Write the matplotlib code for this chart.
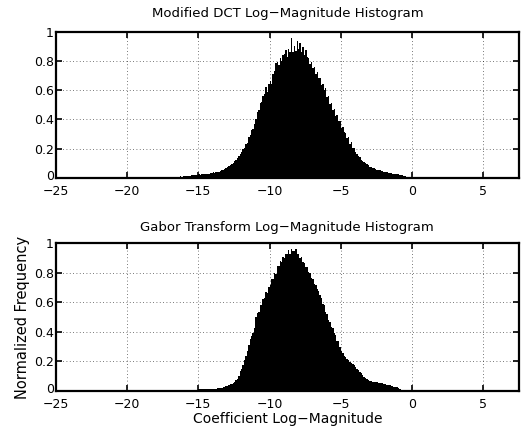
#!/usr/bin/env python3
import numpy as np
import matplotlib
matplotlib.use("Agg")
import matplotlib.pyplot as plt
import matplotlib.transforms as mtransforms

# histogram bins are 0.1 wide
bin_width = 0.1

# Modified DCT, bins start at -18.5
dct_start = -18.5
dct_hist = [
    0.001, 0.002, 0.002, 0.003, 0.003,
    0.004, 0.004, 0.005, 0.004, 0.005, 0.006, 0.005, 0.006, 0.007, 0.006,
    0.007, 0.008, 0.007, 0.009, 0.008, 0.010, 0.009, 0.011, 0.010, 0.012,
    0.014, 0.013, 0.015, 0.017, 0.016, 0.019, 0.018, 0.021, 0.020, 0.023,
    0.025, 0.024, 0.027, 0.026, 0.029, 0.028, 0.031, 0.030, 0.033, 0.035,
    0.038, 0.036, 0.041, 0.044, 0.042, 0.048, 0.052, 0.056, 0.062, 0.068,
    0.076, 0.081, 0.088, 0.094, 0.103, 0.118, 0.126, 0.137, 0.148, 0.161,
    0.176, 0.196, 0.208, 0.236, 0.242, 0.282, 0.295, 0.328, 0.335, 0.372,
    0.405, 0.452, 0.462, 0.510, 0.518, 0.562, 0.575, 0.622, 0.590, 0.640,
    0.662, 0.645, 0.712, 0.728, 0.785, 0.790, 0.770, 0.820, 0.798, 0.838,
    0.846, 0.872, 0.830, 0.880, 0.862, 0.955, 0.858, 0.905, 0.866, 0.935,
    0.880, 0.925, 0.860, 0.895, 0.842, 0.872, 0.826, 0.818, 0.778, 0.790,
    0.752, 0.760, 0.712, 0.725, 0.682, 0.684, 0.638, 0.645, 0.600, 0.612,
    0.555, 0.562, 0.508, 0.512, 0.462, 0.470, 0.422, 0.430, 0.388, 0.392,
    0.345, 0.352, 0.312, 0.305, 0.276, 0.280, 0.236, 0.245, 0.205, 0.202,
    0.178, 0.165, 0.152, 0.142, 0.126, 0.118, 0.108, 0.100, 0.094, 0.086,
    0.078, 0.074, 0.070, 0.066, 0.062, 0.058, 0.056, 0.052, 0.050, 0.047,
    0.044, 0.041, 0.040, 0.037, 0.036, 0.033, 0.031, 0.030, 0.028, 0.027,
    0.025, 0.022, 0.021, 0.018, 0.016, 0.013, 0.010, 0.008, 0.005, 0.003,
]

# Gabor transform, bins start at -15.0
gabor_start = -15.0
gabor_hist = [
    0.012, 0.011, 0.012, 0.013, 0.012, 0.013, 0.014, 0.013, 0.014, 0.015,
    0.015, 0.016, 0.017, 0.019, 0.018, 0.021, 0.023, 0.026, 0.030, 0.033,
    0.036, 0.040, 0.045, 0.050, 0.056, 0.064, 0.072, 0.080, 0.100, 0.135,
    0.152, 0.175, 0.210, 0.240, 0.270, 0.310, 0.355, 0.375, 0.390, 0.430,
    0.498, 0.528, 0.538, 0.582, 0.585, 0.622, 0.628, 0.668, 0.662, 0.705,
    0.718, 0.758, 0.762, 0.802, 0.795, 0.848, 0.845, 0.878, 0.872, 0.908,
    0.902, 0.928, 0.925, 0.955, 0.928, 0.962, 0.948, 0.950, 0.960, 0.925,
    0.930, 0.902, 0.905, 0.872, 0.868, 0.842, 0.838, 0.805, 0.798, 0.765,
    0.758, 0.722, 0.718, 0.688, 0.680, 0.648, 0.628, 0.592, 0.582, 0.538,
    0.522, 0.482, 0.470, 0.432, 0.430, 0.390, 0.380, 0.342, 0.340, 0.300,
    0.270, 0.255, 0.240, 0.232, 0.220, 0.212, 0.198, 0.190, 0.184, 0.176,
    0.160, 0.152, 0.140, 0.130, 0.120, 0.108, 0.098, 0.088, 0.080, 0.074,
    0.070, 0.066, 0.064, 0.061, 0.060, 0.058, 0.055, 0.054, 0.052, 0.051,
    0.048, 0.045, 0.042, 0.040, 0.038, 0.035, 0.033, 0.030, 0.028, 0.025,
    0.020, 0.015, 0.008,
]

x_ticks = [-25, -20, -15, -10, -5, 0, 5]
y_ticks = [0, 0.2, 0.4, 0.6, 0.8, 1]
y_tick_labels = ["0", "0.2", "0.4", "0.6", "0.8", "1"]
titles = ["Modified DCT Log\u2212Magnitude Histogram",
          "Gabor Transform Log\u2212Magnitude Histogram"]

plt.rcParams['font.family'] = ['DejaVu Sans']
plt.rcParams['font.size'] = 9

fig = plt.figure(figsize=(5.21, 4.28), dpi=100)
ax1 = fig.add_axes([0.1075, 0.584, 0.888, 0.342])
ax2 = fig.add_axes([0.1075, 0.0864, 0.888, 0.345])


def draw(ax, start, hist, title, title_pad):
    edges = start + bin_width * np.arange(len(hist) + 1)
    ax.stairs(hist, edges, fill=True, color='k', linewidth=0)
    ax.set_xlim(-25, 7.5)
    ax.set_ylim(0, 1)
    ax.set_xticks(x_ticks)
    ax.set_yticks(y_ticks)
    ax.set_yticklabels(y_tick_labels)
    ax.grid(True, linestyle=(0, (1, 3)), color='k', linewidth=0.6, alpha=0.7)
    ax.tick_params(direction='in', top=True, right=True, length=4,
                   width=1.2, labelsize=9)
    ax.tick_params(axis='x', pad=5)
    ax.tick_params(axis='y', pad=1.5)
    for s in ax.spines.values():
        s.set_linewidth(1.6)
    ax.set_title(title, fontsize=9.5, pad=title_pad)
    ax.set_axisbelow(False)
    # lift the "0" label a bit so it clears the "-25" below it
    lab0 = ax.get_yticklabels()[0]
    lab0.set_transform(lab0.get_transform() +
                       mtransforms.ScaledTranslation(0, 2 / 72, fig.dpi_scale_trans))


draw(ax1, dct_start, dct_hist, titles[0], 10.5)
draw(ax2, gabor_start, gabor_hist, titles[1], 9)

ax2.set_xlabel("Coefficient Log\u2212Magnitude", fontsize=10, labelpad=0.5)
ax2.set_ylabel("Normalized Frequency", fontsize=10.5, labelpad=3)

plt.savefig('out.png', dpi=100)
